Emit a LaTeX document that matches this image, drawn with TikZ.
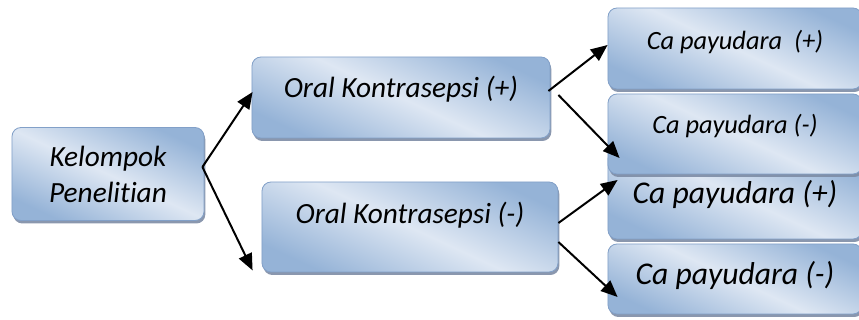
\documentclass[tikz,border=0pt]{standalone}
\usepackage{fontspec}
\setmainfont{Carlito}[Ligatures={NoCommon}]
\usetikzlibrary{shapes,arrows.meta,positioning,calc,shadows}
\definecolor{boxdark}{RGB}{149,179,215}
\definecolor{boxlight}{RGB}{222,231,243}
\definecolor{boxedge}{RGB}{130,160,200}
\definecolor{boxshadow}{RGB}{125,140,165}

\tikzset{
    groupbox/.style={rectangle, rounded corners=0.27cm, draw=boxedge, line width=0.7pt,
        top color=boxdark, bottom color=boxdark, middle color=boxlight, shading angle=-25,
        drop shadow={shadow xshift=0.04cm, shadow yshift=-0.09cm, fill=boxshadow, opacity=0.9},
        align=center, inner sep=0pt},
    bigtext/.style={font=\itshape\fontsize{25}{31}\selectfont},
    catext/.style={font=\itshape\fontsize{27}{32}\selectfont},
    smalltext/.style={font=\itshape\fontsize{22.5}{27}\selectfont},
    lifted/.style={text depth=#1},
    arr/.style={-{Triangle[length=0.5cm,width=0.42cm]}, line width=1.7pt}
}

\begin{document}
\begin{tikzpicture}[x=0.03cm, y=-0.03cm]
    \useasboundingbox (0,0) rectangle (859,320);

    % Boxes
    \node[groupbox, bigtext, lifted=0pt, minimum width=5.76cm, minimum height=2.79cm] (kelompok) at (108,174) {Kelompok\\Penelitian};
    \node[groupbox, bigtext, lifted=18pt, minimum width=8.94cm, minimum height=2.43cm] (oralpos) at (401,97.5) {Oral Kontrasepsi (+)};
    \node[groupbox, bigtext, lifted=25pt, minimum width=8.88cm, minimum height=2.7cm] (oralneg) at (410,227) {Oral Kontrasepsi (-)};

    \node[groupbox, smalltext, lifted=14pt, minimum width=7.62cm, minimum height=2.43cm] (capos1) at (735,48.5) {Ca payudara\ \ (+)};
    \node[groupbox, catext, minimum width=7.62cm, minimum height=2.67cm] (capos2) at (735,194.5) {Ca payudara (+)};
    \node[groupbox, smalltext, lifted=17pt, minimum width=7.62cm, minimum height=2.4cm] (caneg1) at (735,134) {Ca payudara (-)};
    \node[groupbox, catext, lifted=10pt, minimum width=7.62cm, minimum height=2.1cm] (caneg2) at (735,279) {Ca payudara (-)};

    % Arrows
    \draw[arr] ($(kelompok.east)+(-2,-7)$) -- ($(oralpos.west)+(1,-5.5)$);
    \draw[arr] ($(kelompok.east)+(-2,-7)$) -- ($(oralneg.south west)+(-9,-2)$);
    \draw[arr] ($(oralpos.east)+(-2,-6.5)$) -- ($(capos1.west)+(0,-3.5)$);
    \draw[arr] ($(oralpos.east)+(8,-2.5)$) -- ($(caneg1.west)+(12,24)$);
    \draw[arr] ($(oralneg.east)+(0,-4)$) -- ($(capos2.west)+(10,-14.5)$);
    \draw[arr] ($(oralneg.east)+(0,15)$) -- ($(caneg2.west)+(10,18)$);
\end{tikzpicture}
\end{document}
